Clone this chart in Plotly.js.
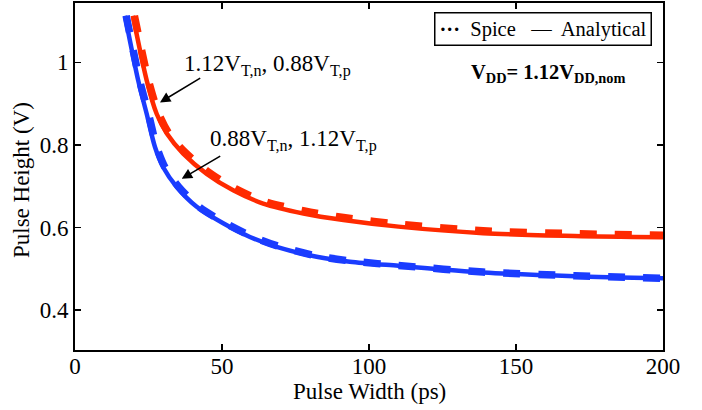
<!DOCTYPE html>
<html>
<head>
<meta charset="utf-8">
<script src="https://cdn.plot.ly/plotly-3.0.1.min.js"></script>
<style>
  html, body { margin: 0; padding: 0; background: #fff; }
  #chart { width: 702px; height: 410px; }
</style>
</head>
<body>
<div id="chart"></div>
<script>
// Pulse height vs. pulse width at VDD = 1.12 VDD,nom, two threshold corners

// Corner A: 1.12 VT,n / 0.88 VT,p (red)
const redAnalyticalWidth  = [19.7, 24.4, 27.8, 31.3, 36.8, 44.8, 53.8, 64.0, 77.7, 91.3, 110, 138.8, 170, 200];
const redAnalyticalHeight = [1.113, 0.956, 0.875, 0.827, 0.779, 0.730, 0.690, 0.658, 0.634, 0.618, 0.602, 0.586, 0.579, 0.576];
const redSpiceWidth  = [20.2, 25.0, 28.5, 32.0, 37.6, 45.5, 54.5, 64.5, 78.0, 91.3, 110, 138.8, 170, 200];
const redSpiceHeight = [1.113, 0.956, 0.875, 0.827, 0.781, 0.734, 0.694, 0.663, 0.640, 0.624, 0.608, 0.592, 0.585, 0.581];

// Corner B: 0.88 VT,n / 1.12 VT,p (blue)
const blueAnalyticalWidth  = [17.0, 21.5, 24.4, 27.2, 30.0, 34.6, 41.4, 50.4, 59.5, 68.6, 82.2, 93.5, 110, 138.8, 170, 200];
const blueAnalyticalHeight = [1.113, 0.956, 0.875, 0.795, 0.746, 0.698, 0.650, 0.610, 0.577, 0.553, 0.529, 0.517, 0.507, 0.491, 0.482, 0.477];
const blueSpiceWidth  = [17.4, 22.0, 25.0, 27.8, 30.6, 35.2, 42.0, 51.0, 60.0, 69.0, 82.2, 93.5, 110, 138.8, 170, 200];
const blueSpiceHeight = [1.113, 0.956, 0.875, 0.795, 0.746, 0.699, 0.651, 0.611, 0.579, 0.555, 0.531, 0.519, 0.508, 0.492, 0.483, 0.477];

const xTicks = [0, 50, 100, 150, 200];
const yTicks = [0.4, 0.6, 0.8, 1];

const RED = '#ff2a00';
const BLUE = '#1a3cff';
const FONT = 'Liberation Serif, Times New Roman, serif';

function solid(x, y, color) {
  return { x, y, type: 'scatter', mode: 'lines', showlegend: false,
           line: { color, width: 4.5, shape: 'spline', smoothing: 0.8 }, hoverinfo: 'skip' };
}
function dashed(x, y, color) {
  return { x, y, type: 'scatter', mode: 'lines', showlegend: false,
           line: { color, width: 7.5, dash: '17px,18px', shape: 'spline', smoothing: 0.8 }, hoverinfo: 'skip' };
}

const traces = [
  solid(redAnalyticalWidth, redAnalyticalHeight, RED),
  dashed(redSpiceWidth, redSpiceHeight, RED),
  solid(blueAnalyticalWidth, blueAnalyticalHeight, BLUE),
  dashed(blueSpiceWidth, blueSpiceHeight, BLUE)
];

const axisCommon = {
  showgrid: false, zeroline: false,
  showline: true, linecolor: '#000', linewidth: 2, mirror: 'ticks',
  ticks: 'inside', ticklen: 6, tickwidth: 1.5, tickcolor: '#000',
  tickfont: { family: FONT, size: 23, color: '#000' }
};

function arrow(xHead, yHead, xTail, yTail) {
  return { x: xHead, y: yHead, ax: xTail, ay: yTail, xref: 'x', yref: 'y', axref: 'x', ayref: 'y',
           text: '', showarrow: true, arrowhead: 2, arrowsize: 1.3, arrowwidth: 1.6, arrowcolor: '#000' };
}

const layout = {
  width: 702, height: 410,
  margin: { l: 75, r: 39, t: 3, b: 60 },
  paper_bgcolor: '#fff', plot_bgcolor: '#fff',
  font: { family: FONT, color: '#000' },
  xaxis: Object.assign({}, axisCommon, {
    range: [0, 200], tickvals: xTicks, ticklabelstandoff: -6
  }),
  yaxis: Object.assign({}, axisCommon, {
    range: [0.303, 1.144], tickvals: yTicks
  }),
  annotations: [
    {
      // x-axis title
      xref: 'paper', yref: 'paper', x: 0.5, y: -0.121, xanchor: 'center', yanchor: 'middle',
      text: 'Pulse Width (ps)', showarrow: false,
      font: { family: FONT, size: 23, color: '#000' }
    },
    {
      // y-axis title
      xref: 'paper', yref: 'paper', x: -0.090, y: 0.49, xanchor: 'center', yanchor: 'middle',
      text: 'Pulse Height (V)', textangle: -90, showarrow: false,
      font: { family: FONT, size: 23, color: '#000' }
    },
    {
      xref: 'paper', yref: 'paper', x: 0.981, y: 0.974, xanchor: 'right', yanchor: 'top',
      text: '<b>···</b>  Spice   —  Analytical', showarrow: false,
      font: { family: FONT, size: 20.5, color: '#000' },
      bordercolor: '#000', borderwidth: 1.5, borderpad: 4, bgcolor: '#fff'
    },
    {
      xref: 'x', yref: 'y', x: 161, y: 0.972, xanchor: 'center', yanchor: 'middle',
      text: '<b>V<sub>DD</sub>= 1.12V<sub>DD,nom</sub></b>', showarrow: false,
      font: { family: FONT, size: 20.5, color: '#000' }
    },
    {
      xref: 'x', yref: 'y', x: 36.3, y: 0.992, xanchor: 'left', yanchor: 'middle',
      text: '1.12V<sub>T,n</sub>, 0.88V<sub>T,p</sub>', showarrow: false,
      font: { family: FONT, size: 23, color: '#000' }
    },
    {
      xref: 'x', yref: 'y', x: 45.3, y: 0.81, xanchor: 'left', yanchor: 'middle',
      text: '0.88V<sub>T,n</sub>, 1.12V<sub>T,p</sub>', showarrow: false,
      font: { family: FONT, size: 23, color: '#000' }
    },
    arrow(28.9, 0.903, 43.1, 0.964),
    arrow(36.3, 0.718, 49.9, 0.775)
  ]
};

Plotly.newPlot('chart', traces, layout, { staticPlot: true, displayModeBar: false });
</script>
</body>
</html>
